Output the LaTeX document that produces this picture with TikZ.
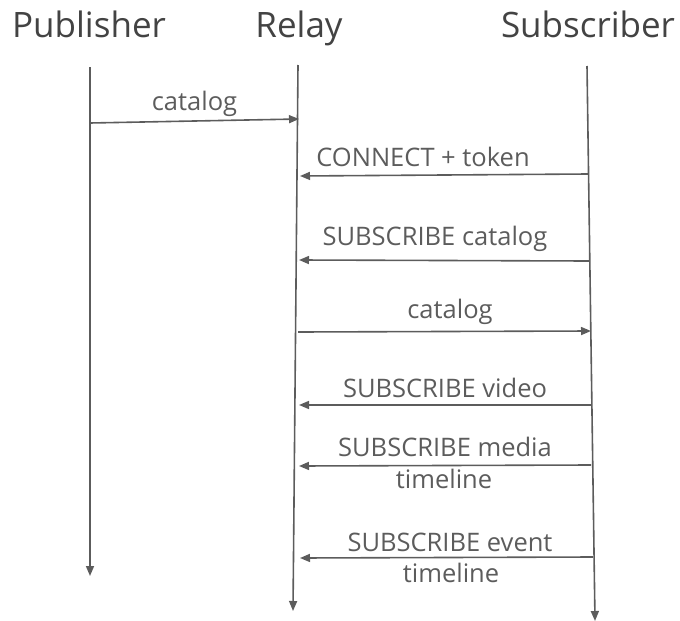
\documentclass[tikz,border=0pt]{standalone}
\usepackage{fontspec}
\setmainfont{Open Sans}
\usetikzlibrary{arrows.meta}
\definecolor{linegray}{RGB}{92,92,92}
\definecolor{titlegray}{RGB}{67,67,67}
\pgfdeclarelayer{edgelayer}
\pgfdeclarelayer{nodelayer}
\pgfsetlayers{edgelayer,nodelayer,main}
\tikzstyle{actor}=[text=titlegray,font=\fontsize{35}{40}\selectfont,inner sep=0pt]
\tikzstyle{msgtext}=[text=linegray,font=\fontsize{25.5}{30}\selectfont,inner sep=0pt,midway,anchor=base]
\tikzstyle{lifeline}=[draw=linegray,line width=1.6pt,-{Triangle[length=10pt,width=8pt]}]
\tikzstyle{msg}=[draw=linegray,line width=1.6pt,-{Triangle[length=10pt,width=8pt]}]

\begin{document}
\begin{tikzpicture}[x=1pt,y=-1pt]
        \useasboundingbox (0,0) rectangle (680,621);
        \begin{pgfonlayer}{nodelayer}
            \node [style = actor, anchor=base] (pub) at (89, 37) {Publisher};
            \node [style = actor, anchor=base] (rel) at (299, 37) {Relay};
            \node [style = actor, anchor=base] (sub) at (588, 37) {Subscriber};
        \end{pgfonlayer}

        % lifelines
        \coordinate (pubTop) at (90, 67);
        \coordinate (pubBot) at (90, 576);
        \coordinate (relTop) at (298, 65);
        \coordinate (relBot) at (293, 611);
        \coordinate (subTop) at (587, 66);
        \coordinate (subBot) at (595, 621);

        % message ends
        \coordinate (p1) at (90, 123);   \coordinate (r1) at (299, 119);
        \coordinate (s2) at (588, 174);  \coordinate (r2) at (300, 176);
        \coordinate (s3) at (589, 261);  \coordinate (r3) at (299, 260);
        \coordinate (r4) at (298, 332);  \coordinate (s4) at (591, 331);
        \coordinate (s5) at (591, 405);  \coordinate (r5) at (299, 405);
        \coordinate (s6) at (591, 465);  \coordinate (r6) at (299, 466);
        \coordinate (s7) at (593, 557);  \coordinate (r7) at (300, 558);

        \begin{pgfonlayer}{edgelayer}
            \draw [style = lifeline] (pubTop) to (pubBot);
            \draw [style = lifeline] (relTop) to (relBot);
            \draw [style = lifeline] (subTop) to (subBot);

            \draw [style = msg] (p1) to node [msgtext, yshift=11pt] {catalog} (r1);
            \draw [style = msg] (s2) to node [msgtext, yshift=9pt, xshift=-21pt] {CONNECT + token} (r2);
            \draw [style = msg] (s3) to node [msgtext, yshift=15pt, xshift=-9pt] {SUBSCRIBE catalog} (r3);
            \draw [style = msg] (r4) to node [msgtext, yshift=13.5pt, xshift=5.5pt] {catalog} (s4);
            \draw [style = msg] (s5) to node [msgtext, yshift=8pt] {SUBSCRIBE video} (r5);
            \draw [style = msg] (s6) to node [msgtext, yshift=9.5pt] {SUBSCRIBE media}
                                        node [msgtext, yshift=-22.5pt, xshift=-1pt] {timeline} (r6);
            \draw [style = msg] (s7) to node [msgtext, yshift=6.5pt, xshift=3.5pt] {SUBSCRIBE event}
                                        node [msgtext, yshift=-24.5pt, xshift=4.5pt] {timeline} (r7);
        \end{pgfonlayer}
    \end{tikzpicture}
\end{document}
